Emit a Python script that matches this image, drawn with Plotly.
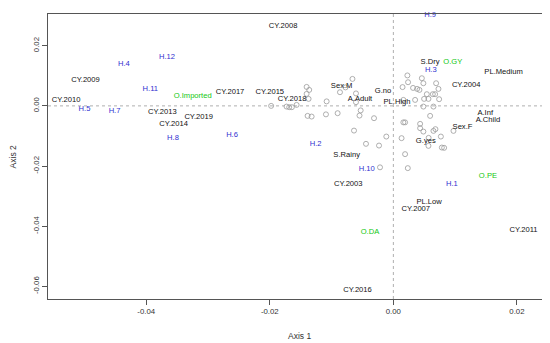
import plotly.graph_objects as go

# ---- data: labelled category coordinates (Axis 1, Axis 2) ----
black_labels = ["CY.2008", "CY.2009", "CY.2010", "CY.2013", "CY.2014", "CY.2019",
                "CY.2017", "CY.2015", "CY.2018", "Sex.M", "A.Adult", "G.no", "PL.High",
                "S.Dry", "PL.Medium", "CY.2004", "A.Inf", "A.Child", "Sex.F", "G.yes",
                "S.Rainy", "CY.2003", "PL.Low", "CY.2007", "CY.2011", "CY.2016"]
black_x = [-0.01784, -0.04983, -0.05296, -0.03739, -0.03556, -0.03151,
           -0.02643, -0.02000, -0.01638, -0.00837, -0.00540, -0.00167, 0.00060,
           0.00595, 0.01784, 0.01179, 0.01487, 0.01531, 0.01119, 0.00525,
           -0.00756, -0.00730, 0.00579, 0.00363, 0.02108, -0.00580]
black_y = [0.02668, 0.00864, 0.00199, -0.00223, -0.00621, -0.00375,
           0.00455, 0.00455, 0.00233, 0.00674, 0.00233, 0.00498, 0.00110,
           0.01462, 0.01140, 0.00688, -0.00243, -0.00475, -0.00698, -0.01163,
           -0.01628, -0.02591, -0.03213, -0.03432, -0.04120, -0.06110]

blue_labels = ["H.9", "H.12", "H.4", "H.11", "H.5", "H.7", "H.8", "H.6", "H.2",
               "H.3", "H.10", "H.1"]
blue_x = [0.00595, -0.03665, -0.04362, -0.03934, -0.04999, -0.04513, -0.03567,
          -0.02611, -0.01258, 0.00606, -0.00431, 0.00947]
blue_y = [0.03023, 0.01618, 0.01385, 0.00565, -0.00100, -0.00166, -0.01073,
          -0.00963, -0.01262, 0.01186, -0.02093, -0.02601]

green_labels = ["O.Imported", "O.GY", "O.DA", "O.PE"]
green_x = [-0.03248, 0.00963, -0.00378, 0.01531]
green_y = [0.00309, 0.01462, -0.04196, -0.02349]

# ---- data: individual observations (open circles) ----
obs_x = [-0.01978, -0.01729, -0.01686, -0.01643, -0.01566, -0.01404, -0.01362, -0.01404,
         -0.01372, -0.01080, -0.01091, -0.01388, -0.01323, -0.00902, -0.00864, -0.00775,
         -0.00662, -0.00605, -0.00605, -0.00529, -0.00548, -0.00313, -0.00637, -0.00443,
         -0.00232, -0.00114, -0.00216,
         0.00227, 0.00238, 0.00149, 0.00319, 0.00384, 0.00422, 0.00461, 0.00486,
         0.00692, 0.00730, 0.00542, 0.00639, 0.00676, 0.00498, 0.00568, 0.00741,
         0.00162, 0.00352, 0.00486, 0.00649, 0.00595, 0.00162, 0.00190, 0.00433,
         0.00433, 0.00486, 0.00681, 0.00973, 0.00649, 0.00133, 0.00571, 0.00769,
         0.00568, 0.00785, 0.00822, 0.00190, 0.00234]
obs_y = [0.00000, -0.00023, -0.00043, -0.00043, 0.00033, 0.00631, 0.00532, 0.00399,
         0.00233, 0.00150, -0.00282, -0.00332, -0.00355, -0.00243, 0.00455, 0.00615,
         0.00897, 0.00415, 0.00123, -0.00150, -0.00322, -0.00409, -0.00821, -0.01262,
         -0.01319, -0.01020, -0.02043,
         0.01013, 0.00787, 0.00625, 0.00598, 0.00565, 0.00532, 0.00920, 0.00754,
         0.00754, 0.00565, 0.00389, 0.00389, 0.00389, 0.00233, 0.00233, 0.00223,
         0.00199, 0.00199, -0.00023, -0.00023, -0.00332, -0.00548, -0.00548, -0.00598,
         -0.00741, -0.00854, -0.00774, -0.00831, -0.00831, -0.01073, -0.01063, -0.01020,
         -0.01329, -0.01385, -0.01395, -0.01605, -0.02070]

x_tickvals = [-0.04, -0.02, 0.0, 0.02]
x_ticktext = ["-0.04", "-0.02", "0.00", "0.02"]
y_tickvals = [0.02, 0.0, -0.02, -0.04, -0.06]
y_ticktext = ["0.02", "0.00", "-0.02", "-0.04", "-0.06"]

FONT = "Liberation Sans, Arial, Helvetica, sans-serif"
LABEL_SIZE = 7.6

fig = go.Figure()
fig.add_trace(go.Scatter(
    x=obs_x, y=obs_y, mode="markers", cliponaxis=False,
    marker=dict(symbol="circle-open", size=5, color="#9a9a9a", line=dict(width=0.8)),
    hoverinfo="skip", showlegend=False))

for labels, xs, ys, col in [(black_labels, black_x, black_y, "#111111"),
                            (blue_labels, blue_x, blue_y, "#2f2fd0"),
                            (green_labels, green_x, green_y, "#12c812")]:
    fig.add_trace(go.Scatter(
        x=xs, y=ys, mode="text", text=labels, textposition="middle center",
        cliponaxis=False,
        textfont=dict(family=FONT, size=LABEL_SIZE, color=col),
        hoverinfo="skip", showlegend=False))

# reference lines at zero
fig.add_shape(type="line", xref="x", yref="paper", x0=0, x1=0, y0=0, y1=1,
              line=dict(color="#9a9a9a", width=0.8, dash="dot"))
fig.add_shape(type="line", xref="paper", yref="y", x0=0, x1=1, y0=0, y1=0,
              line=dict(color="#9a9a9a", width=0.8, dash="dot"))

axis_common = dict(showgrid=False, zeroline=False, showline=True, mirror=True,
                   linecolor="#555555", linewidth=1, ticks="outside", ticklen=5,
                   tickcolor="#555555", tickwidth=1, automargin=False,
                   tickfont=dict(family=FONT, size=7.8, color="#333333"))

# page body has an 8px default margin, so the figure is sized to fit the window
fig.update_layout(
    width=542, height=335,
    margin=dict(l=40, r=8, t=6, b=44),
    paper_bgcolor="white", plot_bgcolor="white",
    xaxis=dict(range=[-0.0559, 0.02406], tickvals=x_tickvals, ticktext=x_ticktext,
               **axis_common),
    yaxis=dict(range=[-0.06422, 0.03056], tickvals=y_tickvals, ticktext=y_ticktext,
               tickangle=-90, **axis_common),
    annotations=[
        dict(text="Axis 1", xref="paper", yref="paper", x=0.51, y=-0.13,
             xanchor="center", yanchor="middle", showarrow=False,
             font=dict(family=FONT, size=8.5, color="#333333")),
        dict(text="Axis 2", xref="paper", yref="paper", x=-0.071, y=0.5,
             xanchor="center", yanchor="middle", showarrow=False, textangle=-90,
             font=dict(family=FONT, size=8.5, color="#333333")),
    ],
)

fig.write_html("out.html")
